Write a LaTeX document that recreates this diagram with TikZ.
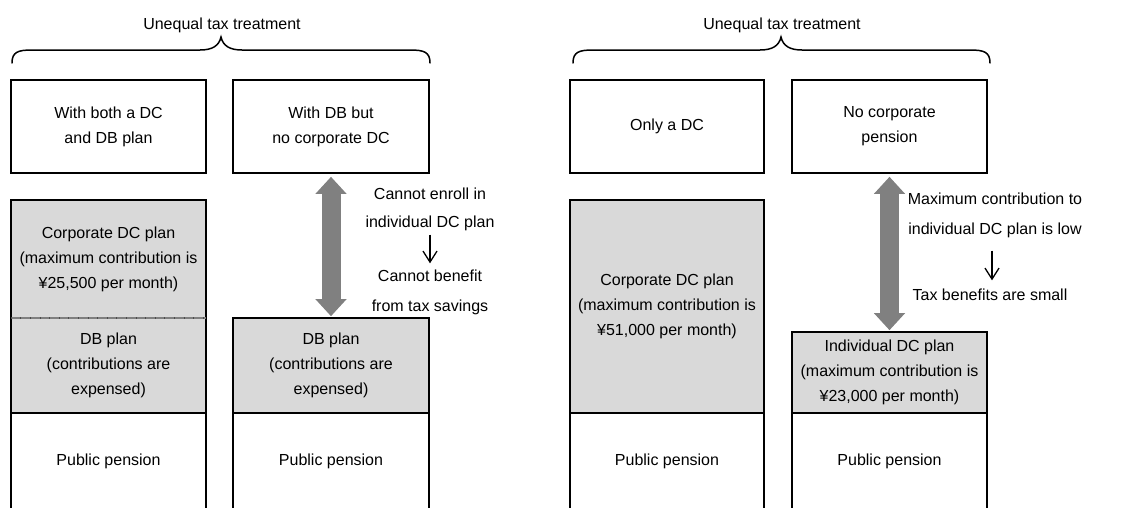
\documentclass[tikz,border=0pt]{standalone}
\usepackage{fontspec}
\setmainfont{Liberation Sans}
\usetikzlibrary{arrows.meta}
\definecolor{boxgray}{HTML}{D9D9D9}
\definecolor{arrgray}{HTML}{808080}
\definecolor{divgray}{HTML}{7F7F7F}
\begin{document}
\begin{tikzpicture}[x=1pt,y=-1pt,
  every node/.style={inner sep=0pt, align=center, font=\fontsize{16}{25}\selectfont},
  box/.style={draw=black, line width=1.6pt},
  fillbox/.style={box, fill=boxgray},
  sidetext/.style={text height=11.5pt, text depth=3.5pt},
  bigarrow/.style={draw=arrgray, line width=19pt,
     {Triangle[width=30pt,length=17pt]}-{Triangle[width=30pt,length=17pt]}},
  smallarrow/.style={line width=1.3pt, -{Straight Barb[length=11pt,width=14pt]}},
  bracestyle/.style={line width=1.5pt, line cap=round}]
\clip (0,0) rectangle (1122,507);
\fill[white] (0,0) rectangle (1122,507);

% ---------- left panel ----------
\node[box, minimum width=195pt, minimum height=93pt] (top1) at (108.5,126.5) {With both a DC\\and DB plan};
\node[box, minimum width=196pt, minimum height=93pt] (top2) at (331,126.5) {With DB but\\no corporate DC};

\node[fill=boxgray, minimum width=195pt, minimum height=118pt] (corp1) at (108.5,259) {Corporate DC plan\\(maximum contribution is\\¥25,500 per month)};
\node[fill=boxgray, minimum width=195pt, minimum height=95pt] (db1) at (108.5,365.5) {DB plan\\(contributions are\\expensed)};
\draw[box] (corp1.north west) rectangle (db1.south east);
\draw[divgray, line width=1.6pt] (corp1.south west) -- (corp1.south east);
\draw[black!70, line width=1.6pt, dash pattern=on 0.6pt off 9pt] (corp1.south west) -- (corp1.south east);
\node[box, minimum width=195pt, minimum height=96pt] (pub1) at (108.5,461) {Public pension};

\node[fillbox, minimum width=196pt, minimum height=95pt] (db2) at (331,365.5) {DB plan\\(contributions are\\expensed)};
\node[box, minimum width=196pt, minimum height=96pt] (pub2) at (331,461) {Public pension};

\draw[bigarrow, shorten <=3pt, shorten >=1pt] (top2.south) -- (db2.north);

\node[sidetext] (l1) at (430,195) {Cannot enroll in};
\node[sidetext] (l2) at (430,223) {individual DC plan};
\node[sidetext] (l3) at (430,277) {Cannot benefit};
\node[sidetext] (l4) at (430,307) {from tax savings};
\draw[smallarrow, shorten <=4pt, shorten >=6pt] (l2.south) -- (l3.north);

\coordinate (bl0) at (12,63);
\coordinate (bl1) at (430,63);
\coordinate (bltip) at (221,37);
\draw[bracestyle] (bl0) .. controls (12,52) and (18,50) .. (32,50) -- (200,50)
   .. controls (212,50) and (219,46) .. (bltip)
   .. controls (223,46) and (230,50) .. (242,50) -- (410,50)
   .. controls (424,50) and (430,52) .. (bl1);
\node (ut1) at (222,25) {Unequal tax treatment};

% ---------- right panel ----------
\node[box, minimum width=194pt, minimum height=93pt] (top3) at (667,126.5) {Only a DC};
\node[box, minimum width=195pt, minimum height=93pt] (top4) at (889.5,126.5) {No corporate\\pension};

\node[fillbox, minimum width=194pt, minimum height=213pt] (corp3) at (667,306.5) {Corporate DC plan\\(maximum contribution is\\¥51,000 per month)};
\node[box, minimum width=194pt, minimum height=96pt] (pub3) at (667,461) {Public pension};

\node[fillbox, minimum width=195pt, minimum height=81pt] (ind4) at (889.5,372.5) {Individual DC plan\\(maximum contribution is\\¥23,000 per month)};
\node[box, minimum width=195pt, minimum height=96pt] (pub4) at (889.5,461) {Public pension};

\draw[bigarrow, shorten <=3pt, shorten >=1pt] (top4.south) -- (ind4.north);

\node[sidetext] (r1) at (995,200) {Maximum contribution to};
\node[sidetext] (r2) at (995,230) {individual DC plan is low};
\node[sidetext] (r3) at (990,296) {Tax benefits are small};
\draw[smallarrow, shorten <=13pt, shorten >=8pt] (r2.south -| 992,0) -- (r3.north -| 992,0);

\coordinate (br0) at (573,63);
\coordinate (br1) at (990,63);
\coordinate (brtip) at (781,37);
\draw[bracestyle] (br0) .. controls (573,52) and (579,50) .. (593,50) -- (760,50)
   .. controls (772,50) and (779,46) .. (brtip)
   .. controls (783,46) and (790,50) .. (802,50) -- (970,50)
   .. controls (984,50) and (990,52) .. (br1);
\node (ut2) at (782,25) {Unequal tax treatment};
\end{tikzpicture}
\end{document}
